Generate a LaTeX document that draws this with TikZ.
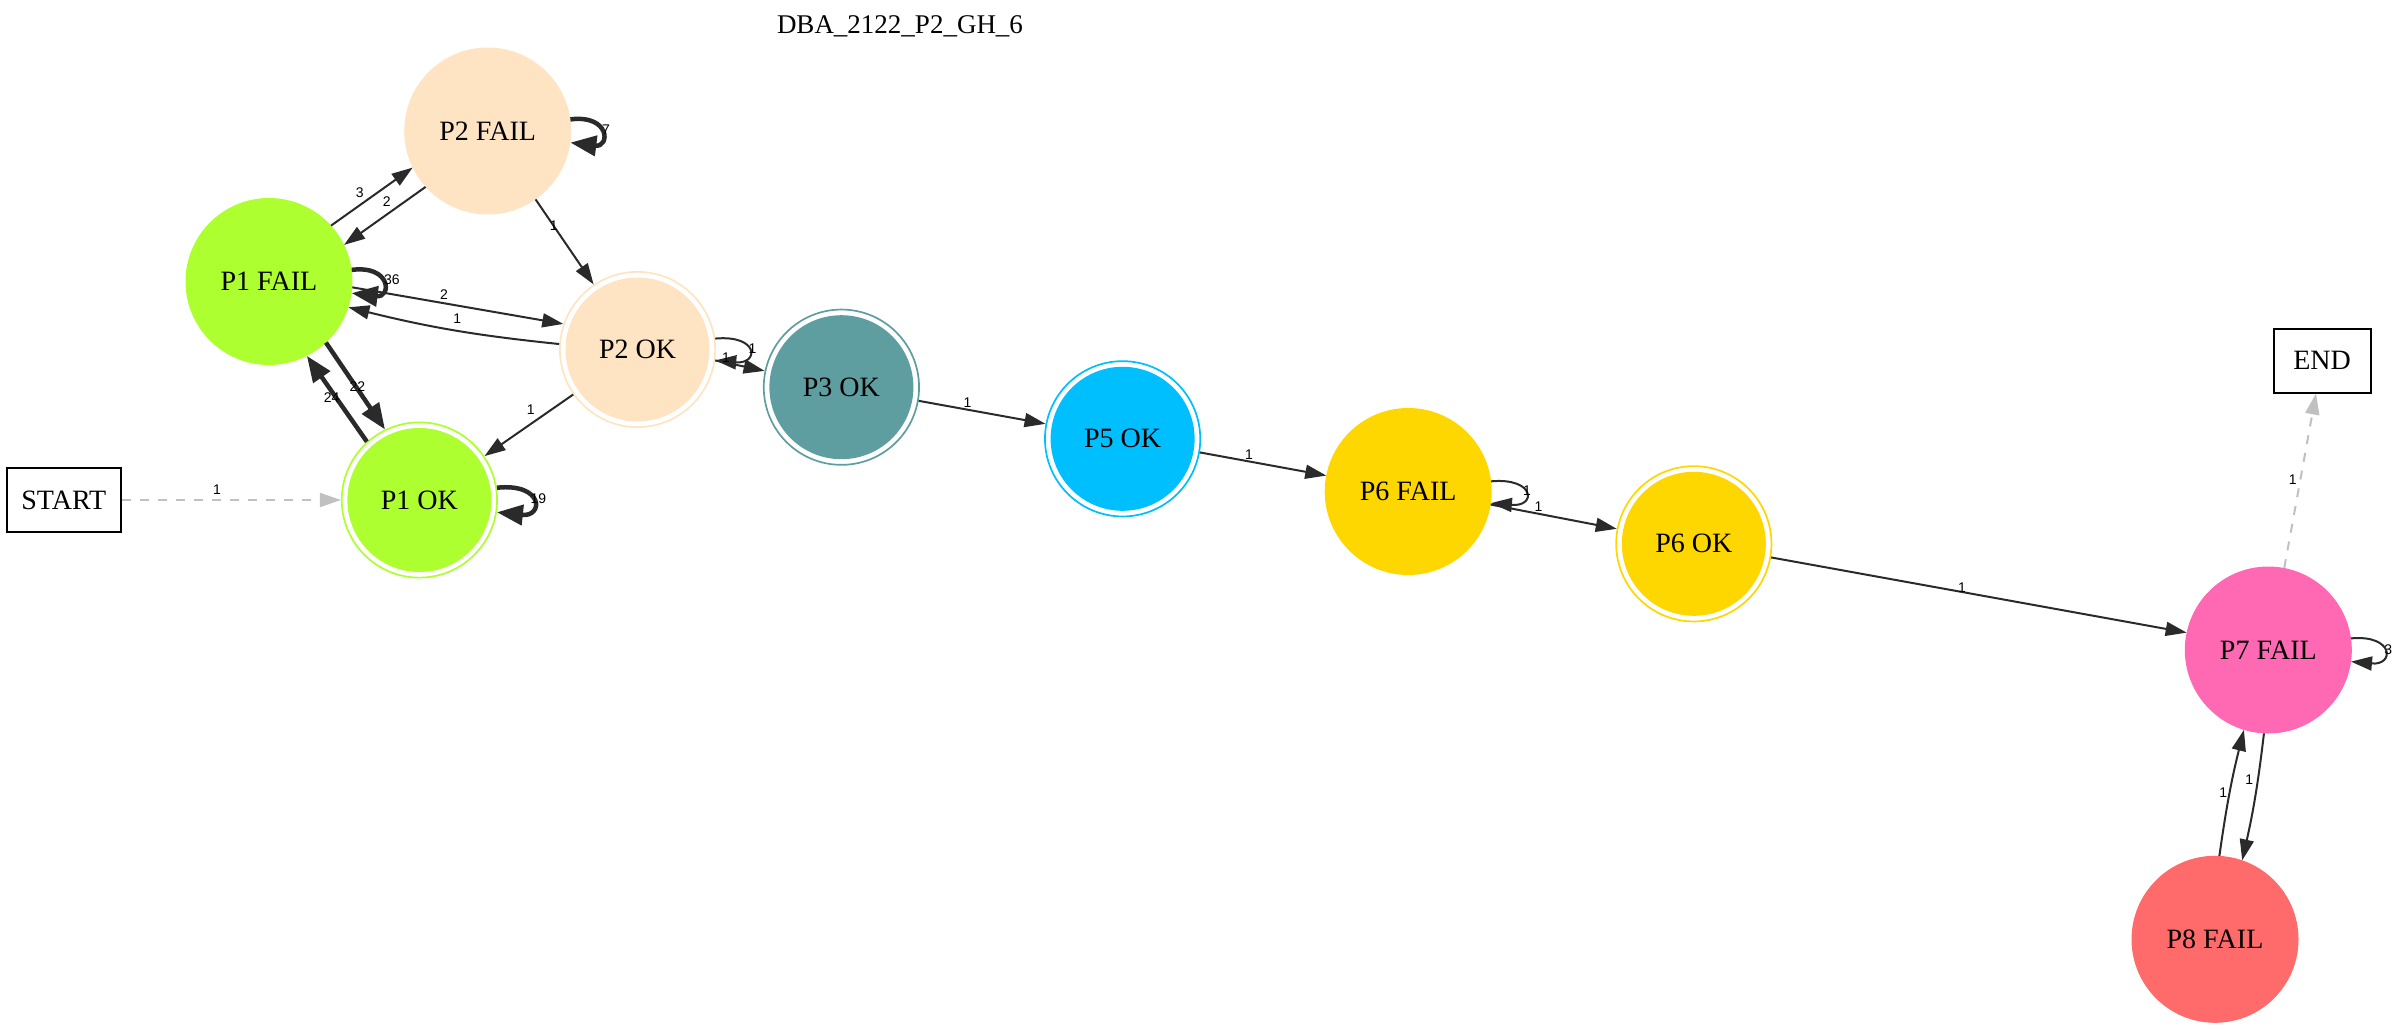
\documentclass[tikz,border=0pt]{standalone}
\usepackage{fontspec}
\setmainfont{Liberation Serif}
\newfontfamily\edgefont{Liberation Sans}
\usetikzlibrary{arrows.meta,calc}
\definecolor{edgecol}{HTML}{2A2A2A}
\definecolor{ghostcol}{HTML}{C0C0C0}
\definecolor{greenyellow}{HTML}{ADFF2F}
\definecolor{bisque}{HTML}{FFE4C4}
\definecolor{cadet}{HTML}{5F9EA0}
\definecolor{skyblue}{HTML}{00BFFF}
\definecolor{goldcol}{HTML}{FFD700}
\definecolor{hotpink}{HTML}{FF69B4}
\definecolor{indianred}{HTML}{FF6A6A}
\begin{document}
\begin{tikzpicture}[x=1pt,y=-1pt,
  every node/.style={inner sep=0pt},
  statefont/.style={font=\fontsize{28}{30}\selectfont},
  failstate/.style={circle, fill=#1, minimum size=167pt, outer sep=0pt, statefont},
  okstate/.style={circle, draw=#1, line width=1.7pt, fill=white, minimum size=155.3pt, statefont,
    path picture={\fill[#1] (path picture bounding box.center) circle (72pt);}},
  termbox/.style={rectangle, draw=black, line width=2pt, statefont},
  edge/.style={draw=edgecol, line width=2pt, -{Triangle[length=21pt,width=14pt]}},
  heavy/.style={draw=edgecol, line width=4.5pt, -{Triangle[length=26pt,width=20pt]}},
  ghost/.style={draw=ghostcol, line width=2pt, dash pattern=on 9pt off 9pt,
    -{Triangle[length=21pt,width=14pt,fill=ghostcol]}},
  lbl/.style={font=\edgefont\fontsize{14}{14}\selectfont, text=black}
]
\useasboundingbox (0,0) rectangle (2400,1030);

% title
\node[font=\fontsize{27}{29}\selectfont] (title) at (900,26) {DBA\_2122\_P2\_GH\_6};

% states
\node[termbox, minimum width=114pt, minimum height=64pt] (start) at (63.8,500) {START};
\node[termbox, minimum width=97pt, minimum height=64pt] (end) at (2322,360.5) {END};
\node[failstate=greenyellow] (p1f) at (269,281.5) {P1 FAIL};
\node[failstate=bisque] (p2f) at (487.7,131) {P2 FAIL};
\node[okstate=greenyellow] (p1ok) at (419.4,500) {P1 OK};
\node[okstate=bisque] (p2ok) at (637.5,349.5) {P2 OK};
\node[okstate=cadet] (p3ok) at (841.4,387.2) {P3 OK};
\node[okstate=skyblue] (p5ok) at (1122.6,438.8) {P5 OK};
\node[failstate=goldcol] (p6f) at (1408.2,491.5) {P6 FAIL};
\node[okstate=goldcol] (p6ok) at (1693.8,543.8) {P6 OK};
\node[failstate=hotpink] (p7f) at (2268.3,650) {P7 FAIL};
\node[failstate=indianred] (p8f) at (2215,939.3) {P8 FAIL};

% transitions
\draw[ghost] (start) -- (p1ok);
\draw[edge] (p1f.42) -- (p2f.206.8);
\draw[edge] (p2f.222.3) -- (p1f.26.6);
\draw[heavy] (p2f.8) .. controls +(40,-5) and +(40,5) .. (p2f.-8);
\draw[heavy] (p1f.8) .. controls +(40,-5) and +(40,5) .. (p1f.-8);
\draw[edge] (p1f.-4.5) -- (p2ok.161.5);
\draw[edge] (p2ok.176.5) to[bend left=4] (p1f.-18);
\draw[edge] (p2f.-55.4) -- (p2ok.124.3);
\draw[heavy] (p1f.-47) -- (p1ok.116.3);
\draw[heavy] (p1ok.132.1) -- (p1f.-63.8);
\draw[edge] (p2ok.215.1) -- (p1ok.34.7);
\draw[heavy] (p1ok.9.5) .. controls +(47,-5) and +(47,5) .. (p1ok.-9.5);
\draw[edge] (p2ok.8.6) .. controls +(44,-4) and +(44,4) .. (p2ok.-8.6);
\draw[edge] (p2ok.-8.9) -- (p3ok.168.5);
\draw[edge] (p3ok.-10.5) -- (p5ok.169.8);
\draw[edge] (p5ok.-10.5) -- (p6f.169.7);
\draw[edge] (p6f.7.9) .. controls +(44,-4) and +(46,4) .. (p6f.-8.5);
\draw[edge] (p6f.-9.9) -- (p6ok.169.9);
\draw[edge] (p6ok.-10.6) -- (p7f.168.2);
\draw[edge] (p7f.8) .. controls +(43,-4) and +(44,4) .. (p7f.-8);
\draw[ghost] (p7f.79.8) -- (end);
\draw[edge] (p7f.-93) to[bend left=3] (p8f.71.5);
\draw[edge] (p8f.87) to[bend left=3] (p7f.-107.7);

% transition counts
\node[lbl] (c01) at (217,490) {1};
\node[lbl] (c02) at (359.7,192.7) {3};
\node[lbl] (c03) at (386.8,201.3) {2};
\node[lbl] (c04) at (606,130) {7};
\node[lbl] (c05) at (391.8,280) {36};
\node[lbl] (c06) at (443.9,295) {2};
\node[lbl] (c07) at (457.3,319) {1};
\node[lbl] (c08) at (553.7,226) {1};
\node[lbl] (c09) at (357.3,386.7) {22};
\node[lbl] (c10) at (331.7,397.7) {24};
\node[lbl] (c11) at (530.7,410) {1};
\node[lbl] (c12) at (538.4,499) {19};
\node[lbl] (c13) at (752.6,348.3) {1};
\node[lbl] (c14) at (726,357.7) {1};
\node[lbl] (c15) at (967.6,402.3) {1};
\node[lbl] (c16) at (1249,454.6) {1};
\node[lbl] (c17) at (1527,490.7) {1};
\node[lbl] (c18) at (1538.4,506.7) {1};
\node[lbl] (c19) at (1962,587.7) {1};
\node[lbl] (c20) at (2388.3,649.3) {3};
\node[lbl] (c21) at (2292.7,480) {1};
\node[lbl] (c22) at (2249.3,779.3) {1};
\node[lbl] (c23) at (2223.3,792.7) {1};
\end{tikzpicture}
\end{document}
